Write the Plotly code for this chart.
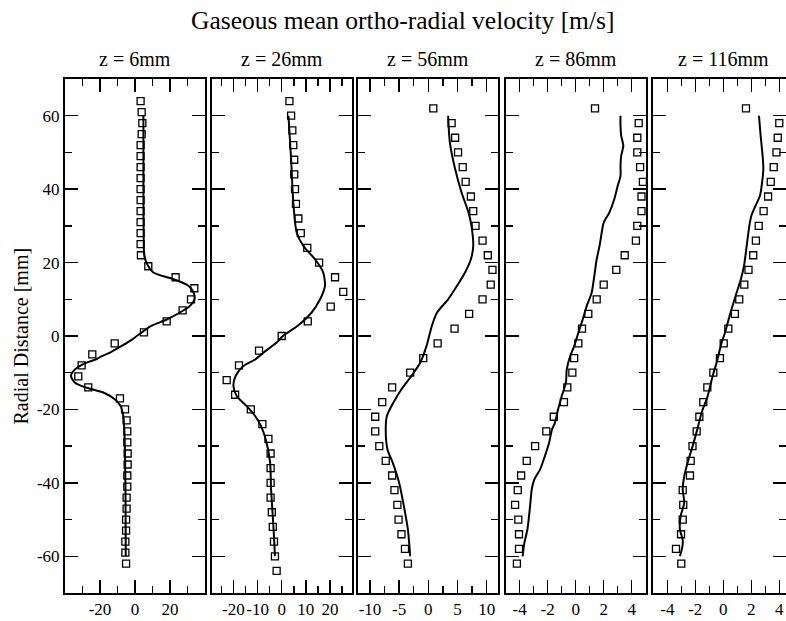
import plotly.graph_objects as go

# ---------------- data ----------------
titles = ["z = 6mm", "z = 26mm", "z = 56mm", "z = 86mm", "z = 116mm"]

# panel 1 (z = 6mm)
exp1_r = [64, 61, 58, 55, 52, 49, 46, 43, 40, 37, 34, 31, 28, 25, 22, 19, 16, 13, 10, 7, 4, 1,
          -2, -5, -8, -11, -14, -17, -20, -23, -26, -29, -32, -35, -38, -41, -44, -47, -50, -53, -56, -59, -62]
exp1_v = [3.2, 3.8, 4.2, 3.8, 3.2, 3.2, 3.2, 3.2, 3.2, 3.2, 3.2, 3.2, 3.2, 3.2, 3.4, 7.6, 23.2, 33.9, 32.0, 27.2, 18.1, 5.1,
          -11.6, -24.4, -30.5, -32.4, -26.7, -8.6, -5.7, -4.8, -4.4, -4.4, -4.2, -4.2, -4.4, -4.4, -4.8, -4.8, -5.1, -5.1, -5.5, -5.5, -5.1]
sim1_r = [60, 40, 25, 22, 19.5, 17.3, 15.5, 13.7, 12, 10, 8.2, 6.4, 4.5, 2.7, 1.2, -0.9, -2.7, -4.5, -5.5, -6.4, -7.3,
          -9.1, -10.9, -12.7, -14.1, -15.4, -17.3, -19.1, -21.8, -25.5, -35, -45, -60]
sim1_v = [4.8, 4.8, 5.0, 5.3, 7.0, 10.5, 21.9, 30.5, 33.3, 34.0, 31.4, 25.7, 18.1, 9.0, 4.5, -1.5, -7.6, -14.3, -19.0, -22.5, -28.0,
          -34.3, -36.6, -34.3, -27.6, -18.1, -11.4, -8.2, -6.7, -6.1, -5.6, -5.4, -5.3]

# panel 2 (z = 26mm)
exp2_r = [64, 60, 56, 52, 48, 44, 40, 36, 32, 28, 24, 20, 16, 12, 8, 4, 0,
          -4, -8, -12, -16, -20, -24, -28, -32, -36, -40, -44, -48, -52, -56, -60, -64]
exp2_v = [3.2, 3.9, 4.4, 4.8, 5.2, 5.2, 5.5, 5.9, 6.9, 7.9, 10.6, 15.5, 22.1, 25.5, 20.3, 10.8, 0.0,
          -9.4, -17.7, -22.8, -19.3, -12.8, -8.0, -5.5, -4.6, -4.6, -4.6, -4.6, -4.1, -3.7, -3.2, -2.8, -2.1]
sim2_r = [60, 48.2, 36.4, 28.2, 24.5, 20.9, 17.3, 13.6, 10, 6.4, 2.7, 0, -1.8, -4.5, -6.4, -8.2, -10.9, -13.6,
          -16.4, -19.1, -21.8, -24.5, -28.2, -34.5, -41.8, -49.1, -54.5, -60]
sim2_v = [2.8, 3.9, 4.8, 6.2, 9.0, 13.8, 17.2, 17.9, 15.9, 12.4, 6.5, 0.5, -2.1, -7.5, -11.0, -15.9, -19.1, -20.0,
          -18.6, -14.5, -11.0, -8.6, -6.6, -4.8, -4.4, -3.7, -3.2, -2.8]

# panel 3 (z = 56mm)
exp3_r = [62, 58, 54, 50, 46, 42, 38, 34, 30, 26, 22, 18, 14, 10, 6, 2,
          -2, -6, -10, -14, -18, -22, -26, -30, -34, -38, -42, -46, -50, -54, -58, -62]
exp3_v = [0.86, 4.0, 4.6, 5.1, 5.9, 6.4, 7.3, 7.7, 8.1, 9.3, 10.2, 11.0, 10.7, 9.3, 7.0, 4.5,
          1.6, -0.86, -3.1, -6.2, -7.9, -9.1, -9.1, -8.4, -7.3, -6.2, -5.8, -5.3, -5.1, -4.6, -4.0, -3.5]
sim3_r = [60, 52.7, 45.5, 39.1, 33.6, 30, 24.5, 20.9, 17.3, 13.6, 10, 6.4, 2.7, -2.7, -7.3, -10.9, -14.5,
          -18.2, -21.8, -25.5, -30.9, -34.5, -40, -45.4, -52.7, -60]
sim3_v = [3.4, 3.7, 4.6, 5.7, 6.9, 7.4, 7.7, 7.3, 6.3, 4.9, 3.4, 1.5, 0.6, -0.3, -1.4, -2.9, -4.6,
          -6.0, -7.1, -7.3, -7.0, -6.1, -5.0, -4.3, -3.5, -3.1]

# panel 4 (z = 86mm)
exp4_r = [62, 58, 54, 50, 46, 42, 38, 34, 30, 26, 22, 18, 14, 10, 6, 2,
          -2, -6, -10, -14, -18, -22, -26, -30, -34, -38, -42, -46, -50, -54, -58, -62]
exp4_v = [1.38, 4.5, 4.4, 4.4, 4.6, 4.8, 4.7, 4.7, 4.4, 4.3, 3.5, 2.9, 2.0, 1.5, 0.9, 0.45,
          0.19, -0.11, -0.24, -0.6, -0.84, -1.57, -2.1, -2.9, -3.5, -3.9, -4.14, -4.33, -4.1, -4.05, -4.05, -4.2]
sim4_r = [60, 57.3, 54.5, 51.8, 49.1, 46.4, 43.6, 40.9, 37.3, 33.6, 30.9, 28.2, 24.5, 20.9, 16.4, 11.8, 8.2,
          4.5, 0.9, -2.7, -5.5, -9.1, -12.7, -16.4, -20, -23.6, -25.5, -29.1, -32.7, -36.4, -39.1, -41.8,
          -46.4, -52.7, -56.4, -60]
sim4_v = [3.2, 3.2, 3.25, 3.4, 3.25, 3.2, 3.2, 3.0, 2.76, 2.4, 2.0, 1.86, 1.7, 1.5, 1.33, 1.14, 0.79,
          0.5, 0.19, -0.1, -0.4, -0.64, -0.7, -1.0, -1.26, -1.48, -1.7, -1.9, -2.2, -2.55, -2.96, -3.14,
          -3.26, -3.45, -3.67, -3.79]

# panel 5 (z = 116mm)
exp5_r = [62, 58, 54, 50, 46, 42, 38, 34, 30, 26, 22, 18, 14, 10, 6, 2,
          -2, -6, -10, -14, -18, -22, -26, -30, -34, -38, -42, -46, -50, -54, -58, -62]
exp5_v = [1.62, 4.0, 3.89, 3.8, 3.6, 3.39, 3.2, 2.88, 2.53, 2.33, 2.14, 1.8, 1.5, 1.14, 0.83, 0.36,
          0.03, -0.24, -0.71, -1.14, -1.43, -1.71, -1.9, -2.2, -2.33, -2.38, -2.9, -2.86, -2.9, -3.02, -3.38, -3.0]
sim5_r = [60, 54.5, 49.1, 45.5, 40.9, 38.2, 35.5, 32.7, 30, 24.5, 19.1, 15.5, 11.8, 6.4, 0.9, -1.8, -7.3,
          -10.9, -16.4, -20.9, -25.5, -30, -34.5, -38.2, -41.8, -45.4, -49.1, -52.7, -55.5, -57.3, -60]
sim5_v = [2.55, 2.67, 2.81, 2.86, 2.74, 2.62, 2.31, 2.0, 1.86, 1.67, 1.48, 1.26, 0.95, 0.52, 0.12, -0.12, -0.48,
          -0.76, -1.12, -1.55, -1.86, -2.19, -2.55, -2.79, -2.9, -2.79, -3.05, -3.1, -2.9, -2.92, -3.1]

# axis tick definitions per panel
x_ranges = [[-40, 40], [-29, 29], [-12, 12], [-5, 5], [-5, 4.48]]
x_major = [[-20, 0, 20], [-20, -10, 0, 10, 20], [-10, -5, 0, 5, 10], [-4, -2, 0, 2, 4], [-4, -2, 0, 2, 4]]
x_minor = [10, 5, 2.5, 1, 1]
y_range = [-70, 70]
y_major = [-60, -40, -20, 0, 20, 40, 60]

# ---------------- layout geometry ----------------
W, H = 786, 621
panel_left = [65, 211.7, 358.3, 505.7, 653.3]
panel_w = 140
top_px, bot_px = 79, 593

SERIF = "Liberation Serif"

fig = go.Figure()

exps = [(exp1_v, exp1_r), (exp2_v, exp2_r), (exp3_v, exp3_r), (exp4_v, exp4_r), (exp5_v, exp5_r)]
sims = [(sim1_v, sim1_r), (sim2_v, sim2_r), (sim3_v, sim3_r), (sim4_v, sim4_r), (sim5_v, sim5_r)]

for i in range(5):
    xa = "x" if i == 0 else f"x{i+1}"
    ya = "y" if i == 0 else f"y{i+1}"
    sv, sr = sims[i]
    ev, er = exps[i]
    fig.add_trace(go.Scatter(x=sv, y=sr, mode="lines", xaxis=xa, yaxis=ya,
                             line=dict(color="black", width=2, shape="spline", smoothing=0.7),
                             showlegend=False, hoverinfo="skip", cliponaxis=False))
    fig.add_trace(go.Scatter(x=ev, y=er, mode="markers", xaxis=xa, yaxis=ya,
                             marker=dict(symbol="square-open", size=7, color="black",
                                         line=dict(color="black", width=1.3)),
                             showlegend=False, hoverinfo="skip", cliponaxis=False))

    x0 = panel_left[i] / W
    x1 = min((panel_left[i] + panel_w) / W, 1.0)
    ydom = [1 - bot_px / H, 1 - top_px / H]
    xkey = "xaxis" if i == 0 else f"xaxis{i+1}"
    ykey = "yaxis" if i == 0 else f"yaxis{i+1}"
    fig.layout[xkey] = dict(
        domain=[x0, x1], range=x_ranges[i], anchor=ya, automargin=False,
        showgrid=False, zeroline=False,
        showline=True, linecolor="black", linewidth=2, mirror="ticks",
        ticks="inside", ticklen=13, tickwidth=1.5, tickcolor="black",
        tickmode="array", tickvals=x_major[i], tickangle=0,
        ticktext=[str(v) for v in x_major[i]],
        ticklabeloverflow="allow",
        tickfont=dict(family=SERIF, size=17, color="black"),
        minor=dict(dtick=x_minor[i], tick0=0, ticks="inside", ticklen=7, tickwidth=1.5, tickcolor="black"),
    )
    fig.layout[ykey] = dict(
        domain=ydom, range=y_range, anchor=xa, automargin=False,
        showgrid=False, zeroline=False,
        showline=True, linecolor="black", linewidth=2, mirror="ticks",
        ticks="inside", ticklen=13, tickwidth=1.5, tickcolor="black",
        tickmode="array", tickvals=y_major,
        ticktext=[str(v) for v in y_major],
        showticklabels=(i == 0), ticklabeloverflow="allow",
        tickfont=dict(family=SERIF, size=17, color="black"),
        minor=dict(dtick=10, tick0=0, ticks="inside", ticklen=7, tickwidth=1.5, tickcolor="black"),
    )

annotations = [
    dict(text="Gaseous mean ortho-radial velocity [m/s]", x=402.5 / W, y=1 - 20 / H,
         xref="paper", yref="paper", showarrow=False, xanchor="center", yanchor="middle",
         font=dict(family=SERIF, size=25.5, color="black")),
    dict(text="Radial Distance [mm]", x=20.5 / W, y=1 - 336 / H, textangle=-90,
         xref="paper", yref="paper", showarrow=False, xanchor="center", yanchor="middle",
         font=dict(family=SERIF, size=20, color="black")),
]
for i, t in enumerate(titles):
    cx = panel_left[i] + panel_w / 2
    annotations.append(dict(text=t, x=cx / W, y=1 - 59 / H, xref="paper", yref="paper",
                            showarrow=False, xanchor="center", yanchor="middle",
                            font=dict(family=SERIF, size=20, color="black")))

fig.update_layout(
    width=W, height=H,
    margin=dict(l=0, r=0, t=0, b=0, autoexpand=False),
    paper_bgcolor="white", plot_bgcolor="white",
    annotations=annotations,
    showlegend=False,
)

fig.write_html("out.html",
               config={"displayModeBar": False, "staticPlot": True},
               post_script="document.body.style.margin='0';document.body.style.overflow='hidden';")
